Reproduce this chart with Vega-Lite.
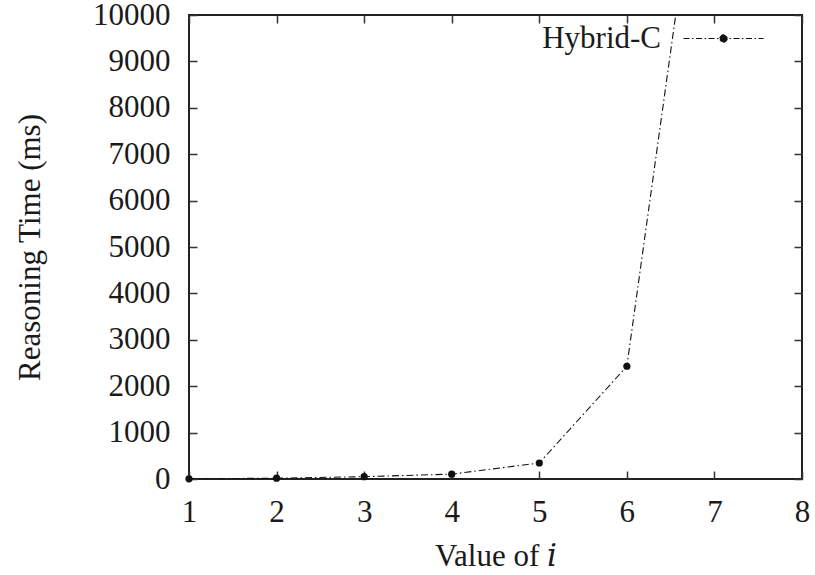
{
  "$schema": "https://vega.github.io/schema/vega-lite/v6.json",
  "width": 613,
  "height": 464,
  "autosize": {"type": "none"},
  "padding": {"left": 189, "top": 15, "right": 13, "bottom": 96},
  "background": "white",
  "config": {
    "view": {"stroke": "#222", "strokeWidth": 2},
    "font": "Liberation Serif",
    "axis": {
      "grid": false,
      "domain": false,
      "labelFont": "Liberation Serif",
      "titleFont": "Liberation Serif, DejaVu Serif",
      "labelFontSize": 31,
      "titleFontSize": 31,
      "labelColor": "#1a1a1a",
      "titleColor": "#1a1a1a",
      "titleFontWeight": "normal",
      "tickColor": "#333",
      "tickWidth": 1.5,
      "tickSize": -8
    }
  },
  "data": {
    "values": [
      {"i": 1, "time": 3, "series": "Hybrid-C"},
      {"i": 2, "time": 18, "series": "Hybrid-C"},
      {"i": 3, "time": 50, "series": "Hybrid-C"},
      {"i": 4, "time": 105, "series": "Hybrid-C"},
      {"i": 5, "time": 345, "series": "Hybrid-C"},
      {"i": 6, "time": 2430, "series": "Hybrid-C"},
      {"i": 7, "time": 16000, "series": "Hybrid-C"}
    ]
  },
  "layer": [
    {
      "mark": {"type": "line", "clip": true, "strokeWidth": 1.1, "strokeDash": [7, 3, 1.5, 3]},
      "encoding": {
        "x": {
          "field": "i", "type": "quantitative",
          "scale": {"domain": [1, 8], "nice": false, "zero": false},
          "axis": {"values": [1, 2, 3, 4, 5, 6, 7, 8], "title": "Value of 𝑖", "labelPadding": 26, "titlePadding": 14, "labelFlush": false}
        },
        "y": {
          "field": "time", "type": "quantitative",
          "scale": {"domain": [0, 10000], "nice": false},
          "axis": {"values": [0, 1000, 2000, 3000, 4000, 5000, 6000, 7000, 8000, 9000, 10000], "title": "Reasoning Time (ms)", "labelPadding": 27, "titlePadding": 46, "format": "d", "labelFlush": false}
        },
        "color": {
          "field": "series", "type": "nominal",
          "scale": {"range": ["#111111"]},
          "legend": {
            "orient": "none", "legendX": 494, "legendY": -17, "title": null, "padding": 0,
            "labelFontSize": 31, "labelFont": "Liberation Serif", "labelColor": "#1a1a1a",
            "labelAlign": "right", "labelOffset": -103,
            "symbolType": "M-1,0H1M0.095,0A0.095,0.095,0,1,1,-0.095,0A0.095,0.095,0,1,1,0.095,0Z",
            "symbolSize": 6400, "symbolStrokeWidth": 1, "symbolDash": [6, 2.5, 1.5, 2.5],
            "symbolFillColor": "#111111", "symbolStrokeColor": "#111111", "symbolOpacity": 1,
            "encode": {"symbols": {"update": {"fill": {"value": "#111111"}, "stroke": {"value": "#111111"}, "strokeDash": {"value": [6, 2.5, 1.5, 2.5]}, "strokeWidth": {"value": 1}, "opacity": {"value": 1}}}}
          }
        }
      }
    },
    {
      "mark": {"type": "point", "filled": true, "clip": false, "size": 52, "opacity": 1, "color": "#111111"},
      "encoding": {
        "x": {"field": "i", "type": "quantitative", "scale": {"domain": [1, 8], "nice": false, "zero": false}, "axis": null},
        "y": {"field": "time", "type": "quantitative", "scale": {"domain": [0, 10000], "nice": false}, "axis": null}
      }
    },
    {
      "mark": {"type": "point", "opacity": 0},
      "encoding": {
        "x": {"field": "i", "type": "quantitative", "scale": {"domain": [1, 8], "nice": false, "zero": false}, "axis": {"orient": "top", "values": [1, 2, 3, 4, 5, 6, 7, 8], "labels": false, "title": null}},
        "y": {"field": "time", "type": "quantitative", "scale": {"domain": [0, 10000], "nice": false}, "axis": {"orient": "right", "values": [0, 1000, 2000, 3000, 4000, 5000, 6000, 7000, 8000, 9000, 10000], "labels": false, "title": null}}
      }
    }
  ],
  "resolve": {"scale": {"x": "independent", "y": "independent"}, "axis": {"x": "independent", "y": "independent"}}
}
